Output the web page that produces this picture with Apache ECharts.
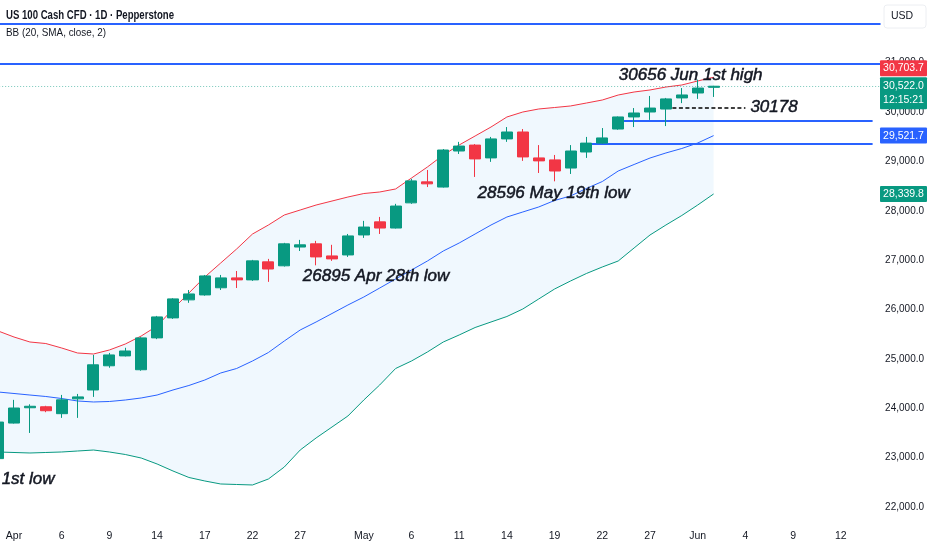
<!DOCTYPE html>
<html><head><meta charset="utf-8">
<script src="https://cdn.jsdelivr.net/npm/echarts@6/dist/echarts.min.js"></script>
<style>html,body{margin:0;padding:0;background:#fff}#c{width:932px;height:550px}</style>
</head><body><div id="c"></div>
<script>
// ---------- data ----------
const dates = [
 '2026-03-31','2026-04-01','2026-04-02','2026-04-03','2026-04-06','2026-04-07','2026-04-08','2026-04-09','2026-04-10',
 '2026-04-13','2026-04-14','2026-04-15','2026-04-16','2026-04-17','2026-04-20','2026-04-21','2026-04-22','2026-04-23','2026-04-24',
 '2026-04-27','2026-04-28','2026-04-29','2026-04-30','2026-05-01','2026-05-04','2026-05-05','2026-05-06','2026-05-07','2026-05-08',
 '2026-05-11','2026-05-12','2026-05-13','2026-05-14','2026-05-15','2026-05-18','2026-05-19','2026-05-20','2026-05-21','2026-05-22',
 '2026-05-25','2026-05-26','2026-05-27','2026-05-28','2026-05-29','2026-06-01','2026-06-02','2026-06-03','2026-06-04','2026-06-05',
 '2026-06-08','2026-06-09','2026-06-10','2026-06-11','2026-06-12','2026-06-15','2026-06-16'];
const opens  = [22980,23700,24010,24030,23890,24190,24370,24860,25060,24780,25425,25830,26195,26295,26440,26640,26600,26965,26885,27265,27330,27085,27105,27510,27775,27650,28160,28585,28480,29210,29330,29070,29455,29595,29070,29030,28865,29190,29370,29655,29900,30000,30060,30285,30385,30500];
const closes = [23720,24005,24040,23950,24170,24230,24880,25080,25160,25425,25850,26215,26315,26680,26640,26600,26985,26820,27330,27310,27065,27025,27490,27670,27650,28095,28605,28545,29230,29310,29050,29455,29595,29090,29010,28805,29210,29370,29475,29900,29980,30080,30265,30345,30485,30522];
const lows   = [22900,23690,23500,23920,23805,23805,24230,24820,25050,24760,25400,25810,26135,26280,26395,26435,26580,26560,26870,27185,26895,26985,27065,27450,27530,27640,28140,28480,28470,29150,28685,28990,29395,29010,28765,28596,28745,29070,29360,29640,29695,29840,29715,30180,30265,30305];
const highs  = [23760,24170,24080,24050,24270,24290,25080,25120,25225,25440,25870,26230,26395,26700,26700,26780,27005,27025,27350,27410,27390,27310,27530,27795,27875,28140,28645,28825,29250,29395,29350,29495,29695,29655,29330,29130,29330,29495,29675,29910,30080,30325,30285,30485,30656,30530];
const bbUpper = [25565,25443,25342,25311,25220,25119,25099,25180,25301,25463,25666,26010,26334,26658,26942,27225,27529,27711,27914,28015,28116,28197,28278,28349,28380,28441,28663,28886,29129,29332,29514,29696,29899,30000,30061,30091,30122,30182,30243,30344,30405,30446,30506,30547,30628,30703.7];
const bbBasis = [24329,24299,24268,24238,24197,24147,24127,24137,24167,24208,24268,24370,24461,24572,24714,24805,24957,25129,25362,25585,25747,25919,26091,26253,26435,26618,26800,26982,27185,27347,27529,27711,27873,27975,28076,28208,28299,28451,28592,28805,28937,29068,29170,29261,29372,29521.7];
const bbLower = [23114,23104,23094,23104,23114,23134,23154,23114,23063,22992,22871,22729,22598,22527,22466,22456,22446,22567,22810,23154,23398,23620,23843,24167,24471,24805,24957,25139,25342,25484,25635,25747,25858,26010,26213,26415,26577,26729,26861,26982,27246,27509,27711,27904,28116,28339.8];
const tickDates  = ['2026-04-01','2026-04-06','2026-04-09','2026-04-14','2026-04-17','2026-04-22','2026-04-27','2026-05-01','2026-05-06','2026-05-11','2026-05-14','2026-05-19','2026-05-22','2026-05-27','2026-06-01','2026-06-04','2026-06-09','2026-06-12'];
const tickLabels = ['Apr','6','9','14','17','22','27','May','6','11','14','19','22','27','Jun','4','9','12'];
const priceTicks = [22000,23000,24000,25000,26000,27000,28000,29000,30000,31000];
const fullLevels = [31782, 30975];
const rayDates   = ['2026-05-25','2026-05-21'];
const rayLevels  = [29832, 29366];
const dashFrom = '2026-05-28', dashTo = '2026-06-04', dashLevel = 30087, dashText = '30178';
const noteTexts  = ['30656 Jun 1st high','28596 May 19th low','26895 Apr 28th low','1st low'];
const noteDates  = ['2026-06-01','2026-05-19','2026-04-28','2026-03-31'];
const noteValues = [30749, 28360, 26664, 22567];
const titleText = 'US 100 Cash CFD · 1D · Pepperstone';
const indicatorText = 'BB (20, SMA, close, 2)';
const currencyText = 'USD';
const countdownText = '12:15:21';

// ---------- style ----------
const FONT = "'Liberation Sans','Roboto',sans-serif";
const NOTE_FONT = "'Liberation Sans',sans-serif";
const UP = '#089981', DOWN = '#f23645', BLUE = '#2962ff', INK = '#131722';
const noteOffsets = [[-7,0],[-1,0],[60,0],[30,0]];
const noteStyle = {color:INK, fontFamily:NOTE_FONT, fontStyle:'italic', fontSize:17,
                   textBorderColor:INK, textBorderWidth:0.5};
const fmt = v => v.toLocaleString('en-US',{minimumFractionDigits:1,maximumFractionDigits:1});

const chart = echarts.init(document.getElementById('c'), null, {renderer:'canvas'});
const candles = opens.map((o,i)=>[o, closes[i], lows[i], highs[i]]);
const bandWidthData = bbUpper.map((u,i)=>+(u - bbLower[i]).toFixed(1));
const last = dates[dates.length-1];

const levelLines = [];
fullLevels.forEach(v => levelLines.push({yAxis: v, lineStyle:{color:BLUE, width:2, type:'solid'}}));
rayLevels.forEach((v,i) => levelLines.push([
  {coord:[rayDates[i], v], lineStyle:{color:BLUE, width:2, type:'solid'}},
  {coord:[last, v]}]));
levelLines.push([
  {coord:[dashFrom, dashLevel], lineStyle:{color:'#000', width:1.5, type:[4,2.5]},
   label:Object.assign({show:true, position:'end', formatter:dashText, distance:5}, noteStyle)},
  {coord:[dashTo, dashLevel]}]);

const option = {
  animation:false,
  backgroundColor:'#fff',
  grid:{left:-9.85, top:0, width:56*15.9, height:526, containLabel:false, outerBoundsMode:'none'},
  xAxis:{type:'category', data:dates, boundaryGap:true,
    axisLine:{show:false}, axisTick:{show:false}, splitLine:{show:false},
    axisLabel:{interval:(idx,val)=>tickDates.indexOf(val)>=0,
      formatter:(val)=>{const k=tickDates.indexOf(val); return k>=0?tickLabels[k]:'';},
      color:INK, fontFamily:FONT, fontSize:10.5, margin:5}},
  yAxis:{type:'value', position:'right', min:21615.2, max:32268.4, scale:true, z:0,
    axisLine:{show:false}, axisTick:{show:false}, splitLine:{show:false},
    axisLabel:{customValues:priceTicks, formatter:v=>fmt(v), color:INK, fontFamily:FONT, fontSize:10,
      align:'right', margin:43.5}},
  series:[
    {name:'bbBase', type:'line', data:bbLower, stack:'bb', symbol:'none', silent:true,
     lineStyle:{width:0, opacity:0}, z:1},
    {name:'bbFill', type:'line', data:bandWidthData, stack:'bb', symbol:'none', silent:true,
     lineStyle:{width:0, opacity:0}, areaStyle:{color:'rgba(33,150,243,0.065)', opacity:1}, z:1},
    {name:'Upper', type:'line', data:bbUpper, symbol:'none', lineStyle:{color:DOWN, width:1}, z:2},
    {name:'Basis', type:'line', data:bbBasis, symbol:'none', lineStyle:{color:BLUE, width:1}, z:2,
     markLine:{silent:true, symbol:['none','none'], label:{show:false}, data:levelLines}},
    {name:'Lower', type:'line', data:bbLower, symbol:'none', lineStyle:{color:UP, width:1}, z:2},
    {name:'US100', type:'candlestick', data:candles, barWidth:11.5, z:5,
     itemStyle:{color:UP, color0:DOWN, borderColor:UP, borderColor0:DOWN, borderWidth:1},
     markLine:{silent:true, symbol:['none','none'], label:{show:false},
       data:[{yAxis:closes[closes.length-1], lineStyle:{color:'rgba(8,153,129,0.55)', width:1, type:[1,2]}}]},
     markPoint:{silent:true, data:noteTexts.map((t,i)=>({
       coord:[noteDates[i], noteValues[i]], symbol:'rect', symbolSize:1,
       itemStyle:{color:'rgba(0,0,0,0)'},
       label:Object.assign({show:true, position:'inside', formatter:t, offset:noteOffsets[i]}, noteStyle)}))}}
  ]
};
chart.setOption(option);

// header texts and axis price tags (tags placed through the y scale)
const yOf = v => chart.convertToPixel({yAxisIndex:0}, v);
const lastClose = closes[closes.length-1];
const gY = yOf(lastClose), gTop = gY - 9;
const uY = Math.min(yOf(bbUpper[bbUpper.length-1]), gTop - 9);
const bY = yOf(bbBasis[bbBasis.length-1]);
const lY = yOf(bbLower[bbLower.length-1]);
const tagX = 880, tagW = 47, ZT = 200;
function txt(text, x, y, extra){
  return {type:'text', z:ZT+1, zlevel:1, style:Object.assign({text:text, x:x, y:y, align:'center',
    verticalAlign:'middle', fill:'#fff', fontFamily:FONT, fontSize:10.5}, extra||{})};
}
function tag(cy, color, text){
  return [
    {type:'rect', z:ZT, zlevel:1, shape:{x:tagX, y:cy-8, width:tagW, height:16, r:1}, style:{fill:color}},
    txt(text, tagX+tagW/2, cy)];
}
const graphics = [
  {type:'text', x:6, y:16, scaleX:0.8, zlevel:1, z:ZT, style:{text:titleText, x:0, y:0, verticalAlign:'middle',
    fill:INK, fontFamily:FONT, fontSize:12, fontWeight:'bold'}},
  {type:'text', x:6, y:33, scaleX:0.86, zlevel:1, z:ZT, style:{text:indicatorText, x:0, y:0, verticalAlign:'middle',
    fill:INK, fontFamily:FONT, fontSize:11.5}},
  {type:'rect', z:ZT, zlevel:1, shape:{x:884, y:5, width:42, height:23, r:3}, style:{fill:'#fff', stroke:'#eceef2'}},
  txt(currencyText, 891, 16.5, {align:'left', fill:INK, fontSize:10.5})
].concat(
  tag(uY, DOWN, fmt(bbUpper[bbUpper.length-1])),
  [{type:'rect', z:ZT, zlevel:1, shape:{x:tagX, y:gTop, width:tagW, height:32, r:1}, style:{fill:UP}},
   txt(fmt(lastClose), tagX+tagW/2, gY),
   txt(countdownText, tagX+tagW/2, gY+13.5)],
  tag(bY, BLUE, fmt(bbBasis[bbBasis.length-1])),
  tag(lY, UP, fmt(bbLower[bbLower.length-1]))
);
chart.setOption({graphic:graphics});
</script></body></html>
